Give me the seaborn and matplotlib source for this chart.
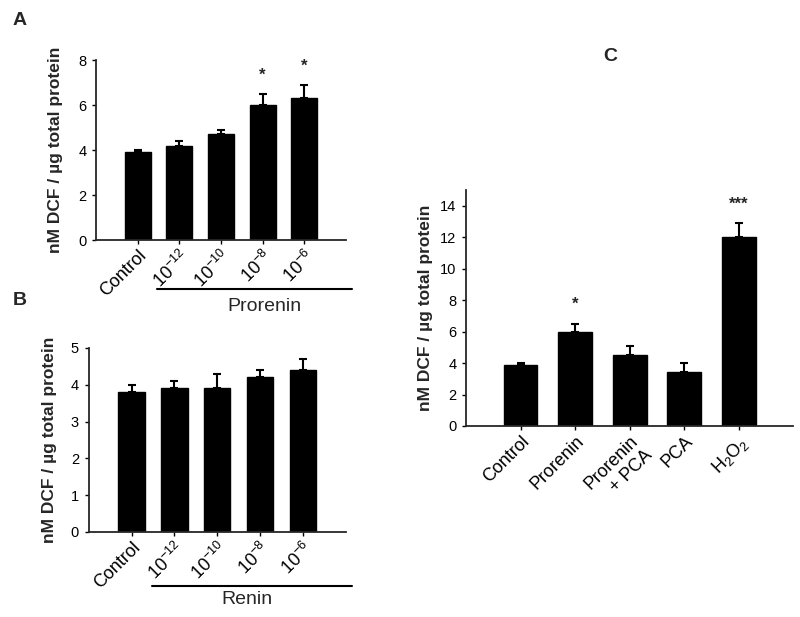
import numpy as np
import pandas as pd
import seaborn as sns
import matplotlib.pyplot as plt

# data
dose_labels = ['Control', '$\\mathregular{10^{-12}}$', '$\\mathregular{10^{-10}}$',
               '$\\mathregular{10^{-8}}$', '$\\mathregular{10^{-6}}$']
prorenin_mean = [3.9, 4.2, 4.7, 6.0, 6.3]
prorenin_err = [0.1, 0.2, 0.2, 0.5, 0.6]
prorenin_stars = ['', '', '', '*', '*']

renin_mean = [3.8, 3.9, 3.9, 4.2, 4.4]
renin_err = [0.2, 0.2, 0.4, 0.2, 0.3]

treat_labels = ['Control', 'Prorenin', 'Prorenin\n+ PCA', 'PCA', '$\\mathregular{H_2O_2}$']
treat_mean = [3.9, 6.0, 4.5, 3.4, 12.0]
treat_err = [0.1, 0.5, 0.6, 0.6, 0.9]
treat_stars = ['', '*', '', '', '***']

ylab = 'nM DCF / µg total protein'

sns.set_theme(style='ticks')
plt.rcParams['font.family'] = ['Liberation Sans', 'DejaVu Sans']
plt.rcParams['axes.linewidth'] = 1.3
plt.rcParams['xtick.major.width'] = 1.0
plt.rcParams['ytick.major.width'] = 1.0
plt.rcParams['xtick.major.size'] = 3
plt.rcParams['ytick.major.size'] = 3

fig = plt.figure(figsize=(8, 6.17), dpi=100)
axA = fig.add_axes([0.12, 0.611, 0.3125, 0.2917])
axB = fig.add_axes([0.111, 0.138, 0.321, 0.298])
axC = fig.add_axes([0.5825, 0.3096, 0.409, 0.3825])


def panel(ax, labels, mean, err, ymax, yticks, labx, stars=None):
    df = pd.DataFrame({'grp': labels, 'val': mean})
    sns.barplot(data=df, x='grp', y='val', color='black', width=0.62,
                saturation=1, edgecolor='black', ax=ax)
    x = np.arange(len(mean))
    ax.errorbar(x, mean, yerr=[np.zeros(len(err)), err], fmt='none',
                ecolor='black', elinewidth=1.5, capsize=3, capthick=1.5)
    if stars:
        for xi, m, e, s in zip(x, mean, err, stars):
            if s:
                ax.annotate(s, xy=(xi, m + e), xytext=(0, 19),
                            textcoords='offset pixels', ha='center',
                            va='center', fontsize=12, fontweight='bold')
    ax.set_xlim(-1, 5)
    ax.set_ylim(0, ymax)
    ax.set_yticks(yticks)
    ax.set_xlabel('')
    ax.set_ylabel(ylab, fontsize=12.5, fontweight='bold')
    ax.yaxis.set_label_coords(labx, 0.5)
    ax.tick_params(axis='y', labelsize=10.5, colors='black', pad=4)
    ax.tick_params(axis='x', labelsize=13, colors='black', pad=2)
    for lbl in ax.get_xticklabels():
        lbl.set_rotation(45)
        lbl.set_ha('right')
        lbl.set_rotation_mode('anchor')
    sns.despine(ax=ax)


panel(axA, dose_labels, prorenin_mean, prorenin_err, 8, range(0, 9, 2), -0.132, prorenin_stars)
panel(axB, dose_labels, renin_mean, renin_err, 5, range(0, 6), -0.125)
panel(axC, treat_labels, treat_mean, treat_err, 15, range(0, 15, 2), -0.10, treat_stars)

# group bars under the dose labels
trA = axA.get_xaxis_transform()
axA.plot([0.47, 5.15], [-0.272, -0.272], color='black', lw=1.5,
         transform=trA, clip_on=False)
axA.text(3.05, -0.37, 'Prorenin', transform=trA, ha='center', va='center',
         fontsize=14)
trB = axB.get_xaxis_transform()
axB.plot([0.47, 5.15], [-0.293, -0.293], color='black', lw=1.5,
         transform=trB, clip_on=False)
axB.text(2.7, -0.37, 'Renin', transform=trB, ha='center', va='center',
         fontsize=14)

fig.text(0.025, 0.967, 'A', fontsize=14, fontweight='bold', ha='center', va='center')
fig.text(0.025, 0.513, 'B', fontsize=14, fontweight='bold', ha='center', va='center')
fig.text(0.7625, 0.908, 'C', fontsize=14, fontweight='bold', ha='center', va='center')

fig.savefig('out.png', dpi=100)
